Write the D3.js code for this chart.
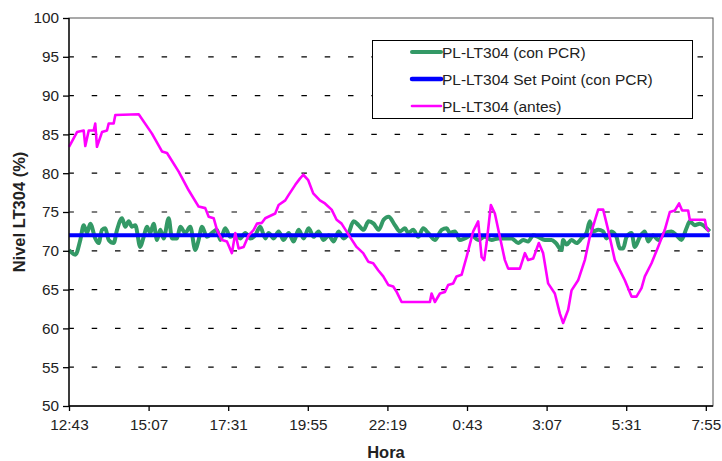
<!DOCTYPE html>
<html>
<head>
	<meta charset="utf-8">
	<title>Nivel LT304</title>
	<script src="https://cdn.jsdelivr.net/npm/d3@7"></script>
	<style>
		body { margin:0; background:#fff; }
		#chart { width:722px; height:461px; }
		text { font-family:"Liberation Sans", Arial, sans-serif; fill:#222; }
	</style>
</head>
<body>
	<div id="chart"></div>
	<script>
		// x values are minutes since 12:43
		var xTickLabels = ["12:43", "15:07", "17:31", "19:55", "22:19", "0:43", "3:07", "5:31", "7:55"];
		var xTickStep = 144;
		var yTicks = [50, 55, 60, 65, 70, 75, 80, 85, 90, 95, 100];
		var setPoint = 72;
		var seriesNames = ["PL-LT304 (con PCR)", "PL-LT304 Set Point (con PCR)", "PL-LT304 (antes)"];

		var conPCR = [
			[0,70.1],[11.4,69.5],[20.5,71.4],[26.6,73.3],[32.6,72.3],[38.5,73.5],[47.5,71.6],[53.7,71.0],[59.7,72.7],[65.6,72.9],
			[71.8,71.4],[80.8,71.0],[86.9,72.7],[95.9,74.2],[101.8,73.1],[108,73.8],[113.9,73.1],[119.9,73.3],[128.9,70.5],[135.1,71.8],
			[141,73.1],[147,72.3],[153.1,73.5],[159.2,71.4],[165.1,72.7],[171.3,71.6],[180.3,74.2],[186.3,71.6],[195.3,71.6],[201.3,73.1],
			[210.3,72.3],[219.3,73.1],[228.5,70.1],[234.5,71.4],[240.6,73.1],[249.6,71.8],[258.6,72.3],[267.7,72.7],[273.6,71.4],[282.6,72.9],
			[291.7,71.8],[300.8,72.0],[309.8,71.6],[318.9,72.3],[327.9,71.6],[336.9,72.0],[345.9,73.1],[355,71.6],[361.1,72.3],[370.2,71.6],
			[379.2,72.5],[388.2,71.4],[397.4,72.3],[406.4,71.2],[415.4,72.7],[424.5,71.6],[433.5,72.9],[442.5,71.8],[451.5,72.5],[460.6,71.4],
			[469.7,72.0],[478.7,71.2],[487.8,72.5],[496.8,71.6],[505.8,72.3],[514.9,73.8],[523.9,73.3],[532.9,72.7],[541.9,73.8],[551.1,73.5],
			[560.1,72.7],[569.1,74.0],[578.2,74.4],[589.6,73.3],[598.6,72.5],[607.7,72.9],[613.6,72.3],[622.7,72.7],[631.8,71.8],[640.8,72.9],
			[649.8,72.3],[661.9,71.4],[674.1,72.7],[683.1,72.9],[689,72.3],[698.1,72.5],[707.1,71.4],[716.1,71.6],[728.2,72.0],[740.2,71.4],
			[752.3,71.8],[764.5,71.4],[776.3,71.6],[788.5,71.6],[800.6,71.6],[812.6,71.0],[821.6,71.4],[830.6,71.2],[839.7,72.0],[848.7,71.8],
			[860.8,71.4],[872.9,71.4],[880.7,71.0],[891,70.1],[893.9,71.4],[900.1,70.8],[909.1,71.4],[918.2,71.0],[927.2,71.6],[936.2,72.3],
			[942.2,73.8],[948.1,72.5],[957.3,72.7],[966.3,72.5],[972.3,71.6],[981.4,72.5],[990.4,71.8],[996.5,70.3],[1002.4,70.3],[1008.6,71.8],
			[1017.6,72.3],[1023.5,70.5],[1032.7,71.8],[1041.7,72.5],[1047.7,71.2],[1056.7,72.0],[1065.7,71.4],[1077.8,72.3],[1089.9,72.5],[1099,72.0],
			[1108,71.4],[1117,72.9],[1123,73.8],[1132.1,73.3],[1141.1,73.5],[1147.1,73.3],[1153.3,72.9],[1159.2,72.5]
		];

		var antes = [
			[0,83.4],[14.5,85.3],[26.6,85.5],[29.5,83.5],[35.7,85.5],[44.7,85.5],[47.5,86.4],[50.6,83.4],[59.7,85.3],[68.7,85.5],
			[71.8,86.4],[80.8,86.4],[83.8,87.5],[126.1,87.6],[150.1,85.1],[168.2,82.8],[177.3,82.6],[198.4,80.2],[216.5,77.8],[234.5,75.7],
			[246.5,75.5],[252.7,74.4],[261.7,74.2],[267.7,72.7],[276.7,71.4],[285.7,71.2],[294.7,69.7],[300.8,72.3],[306.9,70.3],[315.9,70.5],
			[325,72.0],[334.1,72.7],[340,73.5],[349,73.6],[355,74.2],[373,74.8],[379.2,75.9],[391.2,76.5],[397.4,77.2],[409.3,78.5],
			[417.7,79.3],[423.8,79.8],[432.8,79.1],[441.8,77.4],[453.9,76.5],[463,76.1],[475.1,75.3],[484.1,74.0],[493.1,73.5],[508.2,71.8],
			[520.2,70.5],[532.2,69.7],[541.3,68.6],[550.3,68.4],[559.3,67.5],[568.5,66.7],[577.5,65.6],[586.5,65.4],[592.7,64.7],[601.7,63.4],
			[652.9,63.4],[655.9,64.5],[661.9,63.4],[671,64.5],[680,64.7],[685.9,65.6],[695,65.8],[701.1,66.7],[710.2,66.9],[719.2,69.2],
			[731.2,72.5],[740.2,73.8],[746.4,69.2],[751.1,68.8],[755.4,71.0],[763.2,75.9],[770.4,74.8],[779.4,71.8],[788.5,68.8],[794.5,67.7],
			[815.7,67.7],[824.7,69.7],[830.6,68.8],[839.7,69.0],[849.9,71.0],[857.7,69.7],[866.7,65.8],[878.9,64.5],[888,61.9],[893.9,60.7],
			[903,62.4],[909.1,64.9],[921,66.2],[933.1,68.8],[942.2,71.8],[957.3,75.3],[966.3,75.3],[975.3,72.7],[987.4,68.8],[1005.5,66.2],
			[1017.6,64.1],[1026.6,64.1],[1035.7,65.2],[1041.7,66.7],[1053.8,68.4],[1065.7,70.5],[1077.8,72.7],[1086.9,75.0],[1096,75.2],[1103.7,76.1],
			[1109.1,75.2],[1120,75.2],[1123,74.0],[1150.2,74.0],[1153.3,72.9],[1157.5,72.5]
		];

		var plotLeft = 69, plotRight = 713, plotTop = 18, plotBottom = 406;

		var svg = d3.select('#chart')
			.append('svg')
			.attr('width', 722)
			.attr('height', 461);

		var x = d3.scaleLinear().domain([0, 1165]).range([plotLeft, plotRight]);
		var y = d3.scaleLinear().domain([50, 100]).range([plotBottom, plotTop]);

		// dashed grid
		svg.append('g').selectAll('line')
			.data(yTicks.slice(1, -1))
			.enter().append('line')
			.attr('x1', plotLeft).attr('x2', plotRight)
			.attr('y1', function(d) { return y(d); })
			.attr('y2', function(d) { return y(d); })
			.attr('stroke', '#000')
			.attr('stroke-width', 1.2)
			.attr('stroke-dasharray', '5.5,17.8')
			.attr('stroke-dashoffset', -22.7);

		// plot border (top / right)
		svg.append('rect')
			.attr('x', plotLeft).attr('y', plotTop)
			.attr('width', plotRight - plotLeft).attr('height', plotBottom - plotTop)
			.attr('fill', 'none')
			.attr('stroke', '#555')
			.attr('stroke-width', 1);

		var line = d3.line()
			.x(function(d) { return x(d[0]); })
			.y(function(d) { return y(d[1]); });
		var smooth = d3.line()
			.curve(d3.curveMonotoneX)
			.x(function(d) { return x(d[0]); })
			.y(function(d) { return y(d[1]); });

		svg.append('path')
			.datum(conPCR)
			.attr('d', smooth)
			.attr('fill', 'none')
			.attr('stroke', '#339966')
			.attr('stroke-width', 4)
			.attr('stroke-linejoin', 'round');

		svg.append('path')
			.datum([[0, setPoint], [1159.2, setPoint]])
			.attr('d', line)
			.attr('fill', 'none')
			.attr('stroke', '#0000ff')
			.attr('stroke-width', 4);

		svg.append('path')
			.datum(antes)
			.attr('d', line)
			.attr('fill', 'none')
			.attr('stroke', '#ff00ff')
			.attr('stroke-width', 2.6)
			.attr('stroke-linejoin', 'round');

		// axes
		var xTicks = xTickLabels.map(function(d, i) { return i * xTickStep; });
		var xAxis = d3.axisBottom(x)
			.tickValues(xTicks)
			.tickSize(5)
			.tickPadding(8)
			.tickFormat(function(d, i) { return xTickLabels[i]; });
		var yAxis = d3.axisLeft(y)
			.tickValues(yTicks)
			.tickSize(6)
			.tickPadding(4);

		var gx = svg.append('g')
			.attr('transform', 'translate(0,' + plotBottom + ')')
			.call(xAxis);
		var gy = svg.append('g')
			.attr('transform', 'translate(' + plotLeft + ',0)')
			.call(yAxis);

		[gx, gy].forEach(function(g) {
			g.select('.domain').attr('stroke', '#000').attr('stroke-width', 1.3);
			g.selectAll('.tick line').attr('stroke', '#000').attr('stroke-width', 1.3);
			g.selectAll('.tick text')
				.style('font-family', '"Liberation Sans", Arial, sans-serif')
				.style('font-size', '15.3px')
				.attr('fill', '#222');
		});
		gx.select('.domain').attr('d', 'M' + plotLeft + ',0H' + plotRight);
		gy.select('.domain').attr('d', 'M0,' + plotTop + 'V' + plotBottom);

		svg.append('text')
			.attr('x', (plotLeft + plotRight) / 2 - 5)
			.attr('y', 458)
			.attr('text-anchor', 'middle')
			.style('font-size', '16.5px')
			.style('font-weight', 'bold')
			.text('Hora');

		svg.append('text')
			.attr('transform', 'translate(25,' + (plotTop + plotBottom) / 2 + ') rotate(-90)')
			.attr('text-anchor', 'middle')
			.style('font-size', '16.5px')
			.style('font-weight', 'bold')
			.text('Nivel LT304 (%)');

		// legend
		var legend = svg.append('g');
		legend.append('rect')
			.attr('x', 372.5).attr('y', 40.5)
			.attr('width', 320).attr('height', 78)
			.attr('fill', '#fff')
			.attr('stroke', '#000')
			.attr('stroke-width', 1);

		var legColors = ['#339966', '#0000ff', '#ff00ff'];
		var legWidths = [4, 4.5, 2.6];
		var rows = legend.selectAll('g.row')
			.data(seriesNames)
			.enter().append('g')
			.attr('class', 'row')
			.attr('transform', function(d, i) { return 'translate(0,' + (52 + i * 27) + ')'; });
		rows.append('line')
			.attr('x1', 412).attr('x2', 441)
			.attr('stroke', function(d, i) { return legColors[i]; })
			.attr('stroke-width', function(d, i) { return legWidths[i]; })
			.attr('stroke-linecap', 'round');
		rows.append('text')
			.attr('x', 442)
			.attr('y', 5.5)
			.style('font-size', '15.5px')
			.text(function(d) { return d; });
	</script>
</body>
</html>
